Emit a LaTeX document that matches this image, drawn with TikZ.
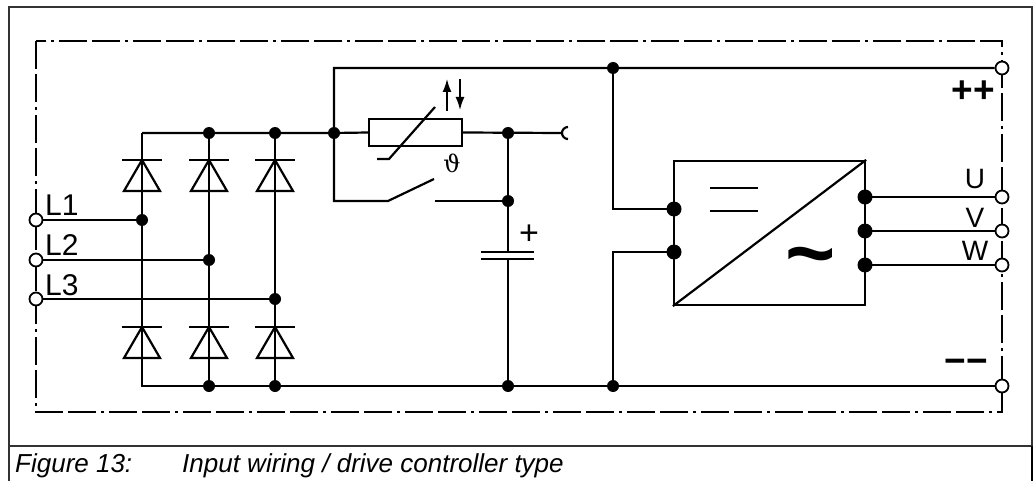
\documentclass[tikz,border=0pt]{standalone}
\usepackage{fontspec}
\setmainfont{Liberation Sans}
\newfontfamily\greekfont{DejaVu Serif}
\usetikzlibrary{arrows.meta}

\tikzset{
  wire/.style={line width=2.2pt},
  frameline/.style={line width=1.2pt, draw=black!80},
  boundary/.style={line width=2.4pt, dash pattern=on 28pt off 5pt on 28pt off 5pt on 3pt off 5pt},
  jdot/.style={circle, fill, inner sep=0pt, minimum size=12pt},
  pindot/.style={circle, fill, inner sep=0pt, minimum size=15pt},
  term/.style={circle, draw, fill=white, line width=1.8pt, inner sep=0pt, minimum size=13pt},
  lbl/.style={inner sep=0pt, font=\fontsize{30}{30}\selectfont},
  outlbl/.style={inner sep=0pt, anchor=base, font=\fontsize{28}{28}\selectfont},
  polarity/.style={inner sep=0pt, font=\fontsize{37}{37}\selectfont\bfseries},
  caption/.style={inner sep=0pt, anchor=base west, font=\fontsize{26}{26}\selectfont\itshape},
  thermarrow/.style={line width=1.6pt, -{Latex[length=13pt,width=9pt]}},
}

% diode, bar at (#1,#2), anode below
\newcommand{\bridgediode}[2]{%
  \draw[wire] (#1-20,#2) -- (#1+20,#2);
  \draw[wire] (#1,#2) -- (#1-18,#2+31) -- (#1+18,#2+31) -- cycle;}

\begin{document}
\begin{tikzpicture}[x=1pt, y=-1pt]
  \useasboundingbox (0,0) rectangle (1035,481);

  % frame and caption
  \draw[frameline] (9,481) -- (9,7) -- (1032,7) -- (1032,446);
  \draw[frameline] (9,446) -- (1032,446);
  \draw[line width=2.4pt] (1032,446) -- (1032,481);
  \node[caption] (capnum) at (15,472) {Figure 13:};
  \node[caption] (captext) at (182,472) {Input wiring / drive controller type};

  % device boundary
  \draw[boundary] (36,41) rectangle (1002,412);

  % terminals
  \node[term] (tL1) at (36,220) {};
  \node[term] (tL2) at (36,260) {};
  \node[term] (tL3) at (36,299) {};
  \node[term] (tP) at (1002,68) {};
  \node[term] (tU) at (1002,197) {};
  \node[term] (tV) at (1002,231) {};
  \node[term] (tW) at (1002,265) {};
  \node[term] (tN) at (1002,386) {};

  % junctions
  \coordinate (bl) at (142,133);
  \coordinate (bm) at (209,133);
  \coordinate (br) at (275,133);
  \coordinate (bbl) at (142,386);
  \coordinate (bbm) at (209,386);
  \coordinate (bbr) at (275,386);
  \coordinate (p1) at (142,220);
  \coordinate (p2) at (209,260);
  \coordinate (p3) at (275,299);
  \coordinate (rin) at (334,133);
  \coordinate (pk) at (334,68);
  \coordinate (swa) at (334,201);
  \coordinate (swk) at (388,201);
  \coordinate (swt) at (434,179);
  \coordinate (swf) at (435,201);
  \coordinate (ctop) at (508,133);
  \coordinate (csw) at (508,201);
  \coordinate (capa) at (508,252);
  \coordinate (capb) at (508,259);
  \coordinate (cbot) at (508,386);
  \coordinate (open) at (562,133);
  \coordinate (dcp) at (613,68);
  \coordinate (dcn) at (613,386);
  \coordinate (inp) at (674,209);
  \coordinate (inn) at (674,252);
  \coordinate (outu) at (865,197);
  \coordinate (outv) at (865,231);
  \coordinate (outw) at (865,265);

  % rectifier bridge
  \draw[wire] (tL1) -- (p1);
  \draw[wire] (tL2) -- (p2);
  \draw[wire] (tL3) -- (p3);
  \draw[wire] (bl) -- (bbl) -- (dcn) -- (tN);
  \draw[wire] (bm) -- (bbm);
  \draw[wire] (br) -- (bbr);
  \foreach \x in {142,209,275} {
    \bridgediode{\x}{160}
    \bridgediode{\x}{327}
  }

  % charging resistor and bypass switch
  \node[draw, wire, minimum width=93pt, minimum height=27pt, inner sep=0pt] (ntc) at (415.5,132.5) {};
  \draw[wire] (bl) -- (rin) -- (ntc.west);
  \draw[wire] (ntc.east) -- (open);
  \draw[wire] (open) ++(6pt,6pt) arc[start angle=90, end angle=270, radius=6pt];
  \draw[wire] (377,159) -- (389,159) -- (435,107);
  \draw[thermarrow] (447,111) -- (447,79);
  \draw[thermarrow] (460,79) -- (460,110);
  \node[inner sep=0pt, font=\fontsize{24}{24}\greekfont] (theta) at (452,163) {ϑ};
  \draw[wire] (tP) -- (pk) -- (swa) -- (swk) -- (swt);
  \draw[wire] (swf) -- (csw);

  % dc link capacitor
  \draw[wire] (ctop) -- (capa);
  \draw[wire] (481,252) -- (534,252);
  \draw[wire] (481,259) -- (534,259);
  \draw[wire] (capb) -- (cbot);
  \node[inner sep=0pt, font=\fontsize{34}{34}\selectfont] (nplus) at (529,235) {+};

  % inverter
  \node[draw, wire, minimum width=191pt, minimum height=144pt, inner sep=0pt] (inv) at (769.5,233) {};
  \draw[wire] (inv.south west) -- (inv.north east);
  \draw[wire] (710,188) -- (758,188);
  \draw[wire] (710,211) -- (758,211);
  \node[inner sep=0pt, font=\fontsize{86}{86}\selectfont\bfseries] (ac) at (811,265) {\textasciitilde};
  \draw[wire] (dcp) -- (dcp |- inp) -- (inp);
  \draw[wire] (inn) -- (dcn |- inn) -- (dcn);
  \draw[wire] (outu) -- (tU);
  \draw[wire] (outv) -- (tV);
  \draw[wire] (outw) -- (tW);

  % dots
  \foreach \p in {bm,br,bbm,bbr,p1,p2,p3,rin,ctop,csw,cbot,dcp,dcn}
    \node[jdot] (dot-\p) at (\p) {};
  \foreach \p in {inp,inn,outu,outv,outw}
    \node[pindot] (dot-\p) at (\p) {};

  % labels
  \node[lbl, anchor=base west] (nL1) at (45,215) {L1};
  \node[lbl, anchor=base west] (nL2) at (45,255) {L2};
  \node[lbl, anchor=base west] (nL3) at (45,295) {L3};
  \node[outlbl] (nU) at (975,189) {U};
  \node[outlbl] (nV) at (975,227) {V};
  \node[outlbl] (nW) at (975,260) {W};
  \node[polarity] (npp) at (973,92) {++};
  \node[polarity] (nmm) at (966,366) {−−};
\end{tikzpicture}
\end{document}
